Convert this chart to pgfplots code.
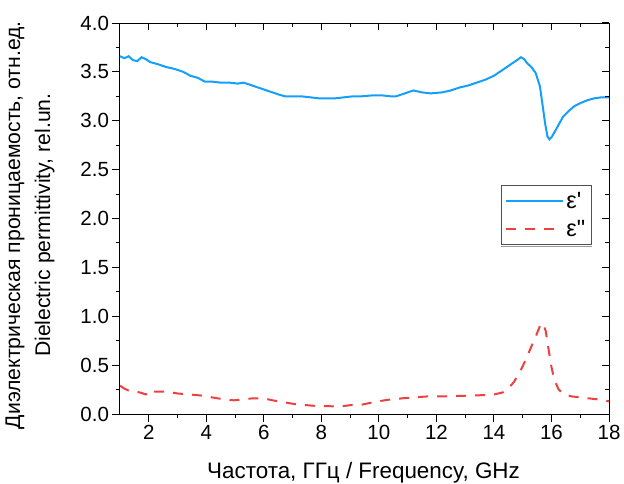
\documentclass[border=0pt]{standalone}
\usepackage{fontspec}
\setmainfont{Liberation Sans}[Ligatures=TeXOff]
\usepackage{pgfplots}
\pgfplotsset{compat=1.18}
\definecolor{epsBlue}{RGB}{20,160,250}
\definecolor{epsRed}{RGB}{238,64,64}
\definecolor{legGray}{RGB}{80,80,80}
\newcommand{\chartfont}{\fontsize{20.5bp}{24bp}\selectfont}

\begin{document}
\begin{tikzpicture}
\pgfplotsset{
  common/.style={
    scale only axis, width=489bp, height=391bp,
    xmin=1, xmax=18, ymin=0, ymax=4,
    xtick={2,4,...,18}, ytick={0,0.5,...,4},
    minor x tick num=1, minor y tick num=1,
    major tick length=7.5bp, minor tick length=4bp,
    every tick/.style={black, line width=1bp},
  }
}
\begin{axis}[common, name=main,
  axis line style={line width=1bp, black},
  xtick pos=left, ytick pos=left, tick align=outside,
  ticklabel style={font=\chartfont},
  /pgf/number format/assume math mode=true,
  yticklabel style={/pgf/number format/.cd, fixed, fixed zerofill, precision=1, /tikz/.cd},
  xlabel={Частота, ГГц / Frequency, GHz},
  xlabel style={font=\fontsize{22.4bp}{26bp}\selectfont, at={(axis description cs:0.498,0)}, anchor=base, yshift=-64bp},
  ylabel={Диэлектрическая проницаемость, отн.ед.\\Dielectric permittivity, rel.un.},
  ylabel style={font=\fontsize{21.2bp}{30bp}\selectfont, align=center,
    at={(axis description cs:-0.184,0.483)}, anchor=center},
  legend style={at={(axis description cs:0.779,0.586)}, anchor=north west,
    name=leg, draw=legGray, line width=1bp, font=\fontsize{23.5bp}{26bp}\selectfont,
    fill=white, inner xsep=4bp, inner ysep=5bp, row sep=6bp, cells={anchor=west}},
  legend image code/.code={\draw[#1] (0bp,0bp) -- (57bp,0bp);},
]
% epsilon' (real part)
\addplot[epsBlue, line width=2bp] coordinates {
(1.0,3.66) (1.15,3.64) (1.3,3.66) (1.45,3.62) (1.6,3.61) (1.75,3.65) (1.9,3.63)
(2.05,3.60) (2.3,3.58) (2.6,3.55) (2.9,3.53) (3.2,3.50) (3.45,3.46) (3.7,3.44)
(3.95,3.40) (4.2,3.40) (4.5,3.39) (4.8,3.39) (5.1,3.38) (5.3,3.39) (5.6,3.36)
(5.9,3.33) (6.2,3.30) (6.5,3.27) (6.74,3.25) (7.0,3.25) (7.3,3.25) (7.6,3.24)
(7.9,3.23) (8.2,3.23) (8.5,3.23) (8.8,3.24) (9.1,3.25) (9.4,3.25) (9.8,3.26)
(10.1,3.26) (10.4,3.25) (10.6,3.25) (10.9,3.28) (11.2,3.31) (11.5,3.29) (11.8,3.28)
(12.2,3.29) (12.5,3.31) (12.8,3.34) (13.1,3.36) (13.4,3.39) (13.7,3.42) (14.0,3.46)
(14.3,3.52) (14.6,3.58) (14.8,3.62) (14.94,3.65) (15.05,3.63) (15.15,3.59) (15.3,3.55)
(15.45,3.49) (15.6,3.35) (15.7,3.14) (15.78,2.97) (15.86,2.84) (15.93,2.81) (16.0,2.83)
(16.1,2.88) (16.25,2.96) (16.4,3.04) (16.6,3.10) (16.8,3.15) (17.0,3.18) (17.25,3.21)
(17.5,3.23) (17.75,3.24) (18.0,3.24)
};
\addlegendentry{ε'}
% epsilon'' (imaginary part)
\addplot[epsRed, line width=2bp, dash pattern=on 10bp off 9bp] coordinates {
(1.0,0.29) (1.15,0.26) (1.3,0.24) (1.5,0.23) (1.7,0.22) (1.9,0.20) (2.0,0.24)
(2.2,0.23) (2.6,0.23) (3.0,0.21) (3.4,0.20) (3.8,0.19) (4.2,0.17) (4.6,0.15)
(4.95,0.14) (5.3,0.15) (5.6,0.16) (6.0,0.16) (6.3,0.14) (6.7,0.12) (7.1,0.10)
(7.5,0.09) (7.9,0.08) (8.3,0.08) (8.6,0.075) (9.0,0.09) (9.4,0.095) (9.8,0.12)
(10.3,0.145) (10.8,0.16) (11.2,0.17) (11.7,0.18) (12.2,0.18) (12.8,0.185) (13.4,0.19)
(14.0,0.20) (14.3,0.22) (14.5,0.26) (14.7,0.33) (14.9,0.43) (15.1,0.55) (15.3,0.69)
(15.45,0.79) (15.6,0.90) (15.7,0.93) (15.8,0.85) (15.9,0.66) (16.0,0.48) (16.1,0.35)
(16.25,0.25) (16.45,0.20) (16.7,0.18) (17.0,0.17) (17.3,0.16) (17.6,0.15) (18.0,0.13)
};
\addlegendentry{ε"}
\end{axis}
% gray shadow line under the legend box
\draw[gray!80, line width=1.5bp] ([yshift=-1.3bp]leg.south west) -- ([yshift=-1.3bp]leg.south east);
% mirrored ticks on top and right, pointing inward
\begin{axis}[common, at={(main.south west)}, anchor=south west,
  axis line style={draw=none},
  xtick pos=right, ytick pos=right, tick align=inside,
  xticklabels={}, yticklabels={},
]
\end{axis}
\pgfresetboundingbox
\path[use as bounding box] ([shift={(-120bp,-70bp)}]main.south west)
  rectangle ([shift={(504bp,414bp)}]main.south west);
\end{tikzpicture}
\end{document}
